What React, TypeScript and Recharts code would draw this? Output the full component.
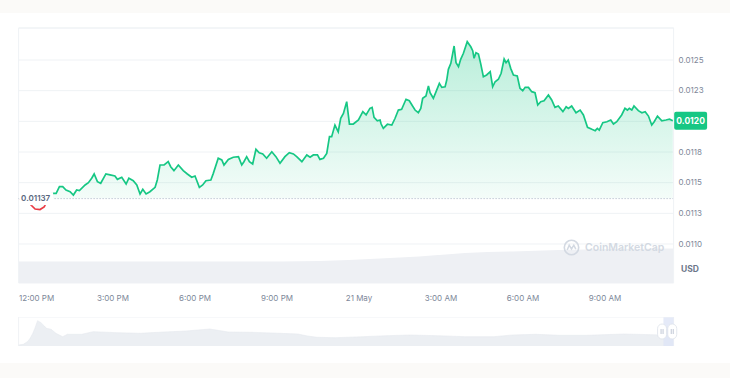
import React from 'react';
import {
  ComposedChart,
  AreaChart,
  Area,
  XAxis,
  YAxis,
  CartesianGrid,
  ReferenceLine,
  ReferenceArea,
  ReferenceDot,
} from 'recharts';

// ---- price series (hours since 12:00 PM, 20 May) ----
const hours = [
  -0.45, -0.26, -0.04, 0.15, 0.33, 0.48, 0.62, 0.76, 0.92, 1.04, 1.16, 1.28, 1.43, 1.55, 1.67, 1.77, 1.98, 2.1, 2.22, 2.31,
  2.43, 2.55, 2.74, 2.89, 3.07, 3.16, 3.32, 3.48, 3.58, 3.74, 3.87, 3.99, 4.09, 4.21, 4.35, 4.54, 4.62, 4.72, 4.87, 5.02,
  5.11, 5.23, 5.39, 5.57, 5.72, 5.88, 6.0, 6.16, 6.28, 6.4, 6.58, 6.67, 6.85, 6.98, 7.06, 7.22, 7.4, 7.59, 7.71, 7.79,
  7.89, 7.99, 8.11, 8.23, 8.35, 8.48, 8.62, 8.81, 8.96, 9.11, 9.29, 9.45, 9.6, 9.72, 9.91, 10.09, 10.21, 10.33, 10.48, 10.57,
  10.7, 10.82, 10.92, 11.0, 11.12, 11.24, 11.33, 11.43, 11.55, 11.65, 11.79, 11.98, 12.14, 12.26, 12.4, 12.48, 12.55, 12.67, 12.77, 12.81,
  12.89, 13.04, 13.2, 13.32, 13.44, 13.56, 13.72, 13.84, 14.05, 14.17, 14.26, 14.33, 14.45, 14.54, 14.6, 14.72, 14.82, 14.94, 15.03, 15.15,
  15.21, 15.27, 15.36, 15.48, 15.55, 15.64, 15.72, 15.82, 15.96, 16.09, 16.16, 16.21, 16.28, 16.37, 16.45, 16.55, 16.67, 16.8, 16.89, 16.98,
  17.1, 17.2, 17.31, 17.38, 17.46, 17.55, 17.65, 17.79, 17.89, 17.99, 18.08, 18.2, 18.32, 18.44, 18.54, 18.65, 18.77, 18.93, 19.05, 19.17,
  19.29, 19.46, 19.58, 19.66, 19.78, 19.94, 20.09, 20.21, 20.36, 20.52, 20.64, 20.72, 20.79, 20.92, 21.07, 21.21, 21.31, 21.43, 21.61, 21.73,
  21.82, 21.89, 21.98, 22.06, 22.22, 22.35, 22.47, 22.59, 22.71, 22.8, 22.92, 23.08, 23.23, 23.36, 23.48,
];

const prices = [
  0.011367, 0.011359, 0.011326, 0.011285, 0.011281, 0.011302, 0.011359, 0.011413, 0.011413, 0.011467,
  0.011467, 0.01144, 0.011426, 0.011399, 0.01144, 0.011435, 0.011481, 0.0115, 0.011536, 0.011571,
  0.011508, 0.011495, 0.011571, 0.011563, 0.011554, 0.011527, 0.011544, 0.011489, 0.011536, 0.011516,
  0.011481, 0.011408, 0.011446, 0.011408, 0.011426, 0.011462, 0.011522, 0.011644, 0.011644, 0.011671,
  0.01163, 0.011598, 0.011644, 0.011598, 0.011571, 0.011544, 0.011554, 0.011462, 0.011481, 0.011516,
  0.011522, 0.011576, 0.011699, 0.011685, 0.011644, 0.01169, 0.011707, 0.011712, 0.011644, 0.011671,
  0.011712, 0.011671, 0.011652, 0.011772, 0.011744, 0.011734, 0.011699, 0.011752, 0.011712, 0.011658,
  0.011712, 0.011744, 0.011734, 0.011712, 0.011671, 0.011726, 0.011707, 0.011726, 0.011726, 0.01169,
  0.011699, 0.011739, 0.011875, 0.011875, 0.01197, 0.011915, 0.012025, 0.012065, 0.01216, 0.011978,
  0.011978, 0.012011, 0.012079, 0.012052, 0.012106, 0.012114, 0.012033, 0.012005, 0.012011, 0.011978,
  0.011943, 0.011976, 0.01197, 0.012025, 0.012092, 0.012098, 0.01218, 0.012168, 0.012092, 0.01207,
  0.012106, 0.012188, 0.012207, 0.012288, 0.012233, 0.012188, 0.012242, 0.01231, 0.012277, 0.012282,
  0.012337, 0.012424, 0.012473, 0.012614, 0.012478, 0.012445, 0.012506, 0.012555, 0.012649, 0.012608,
  0.012576, 0.012514, 0.01256, 0.012549, 0.012473, 0.012364, 0.012378, 0.012405, 0.012282, 0.012323,
  0.012343, 0.012392, 0.012508, 0.012478, 0.0125, 0.012432, 0.012378, 0.01237, 0.012269, 0.01225,
  0.012277, 0.012277, 0.012242, 0.012233, 0.012133, 0.01216, 0.012168, 0.012215, 0.012174, 0.012114,
  0.012125, 0.012079, 0.012119, 0.012106, 0.012125, 0.01207, 0.012092, 0.012052, 0.011951, 0.011935,
  0.011924, 0.011943, 0.011929, 0.011989, 0.011997, 0.012011, 0.011978, 0.011997, 0.012052, 0.012106,
  0.012092, 0.012106, 0.012092, 0.012125, 0.012087, 0.01207, 0.012079, 0.012043, 0.01197, 0.011997,
  0.012043, 0.012005, 0.012011, 0.012017, 0.012005,
];

const openPrice = 0.01137;
const openLabel = '0.01137';

// ---- volume (hours, relative level) ----
const volHours = [-0.45, 9.11, 10.57, 11.63, 12.77, 14.2, 15.88, 17.6, 19.32, 21.2, 23.51];
const volumes = [2.15, 2.15, 2.2, 2.3, 2.45, 2.65, 3.0, 3.15, 3.3, 3.4, 3.45];

// ---- axis ticks ----
const xTicks = [0, 3, 6, 9, 12, 15, 18, 21];
const xTickLabels = ['12:00 PM', '3:00 PM', '6:00 PM', '9:00 PM', '21 May', '3:00 AM', '6:00 AM', '9:00 AM'];
const yTicks = [0.011, 0.01125, 0.0115, 0.01175, 0.012, 0.01225, 0.0125];
const yTickLabels = ['0.0110', '0.0113', '0.0115', '0.0118', '0.0120', '0.0123', '0.0125'];

// ---- navigator (days, relative level) ----
const navDays = [
  -0.47, -0.4, -0.34, -0.3, -0.26, -0.23, -0.19, -0.14, -0.09, -0.06, 0.01, 0.08, 0.18, 0.25, 0.46, 0.63, 0.98, 1.32, 1.59, 2.0,
  2.35, 2.62, 2.97, 3.38, 3.65, 3.79, 3.93, 4.2, 4.61, 4.96, 5.3, 5.71, 6.12, 6.54, 6.81, 7.16, 7.5, 7.91, 8.46, 8.87, 9.19,
];
const navValues = [
  1, 1.7, 4.3, 7.7, 12.7, 17.7, 25.3, 23.3, 20, 17.7, 16.7, 12.7, 9.3, 11.7, 11.7, 14.3, 13.3, 12.7, 13.7, 15,
  17, 14, 13.7, 12.7, 12, 10, 8.7, 8.3, 9.3, 10.3, 11, 10.3, 9.3, 9.3, 11, 11.7, 10.7, 10.7, 12, 11.3, 10.7,
];
const navTicks = [0, 1, 2, 3, 4, 5, 6, 7, 8];
const navSelection = [9.04, 9.19];

const T_MIN = -0.454;
const T_MAX = 23.51;
const P_MIN = 0.010682;
const P_MAX = 0.012761;

const GREEN = '#16c784';
const RED = '#ea3943';
const GRID = '#eff2f5';
const TICK = '#7d8799';

const priceData = hours.map((t, i) => ({ t, p: prices[i] }));
const volData = volHours.map((t, i) => ({ t, v: volumes[i] }));
const navData = navDays.map((d, i) => ({ d, v: navValues[i] }));

const maxP = Math.max(...prices);
const minP = Math.min(...prices);
const splitOffset = (maxP - openPrice) / (maxP - minP);
const lastPrice = prices[prices.length - 1];

const XTick = (props: any) => {
  const { x, y, payload, index } = props;
  const label = xTickLabels[xTicks.indexOf(payload.value)] ?? '';
  return (
    <text x={index === 0 ? x - 12 : x} y={y} dy="0.71em" textAnchor={index === 0 ? 'start' : 'middle'} fontSize={8} fill={TICK}>
      {label}
    </text>
  );
};

const YTick = (props: any) => {
  const { x, y, payload } = props;
  const idx = yTicks.indexOf(payload.value);
  // the tick under the current-price badge is covered by it
  const hidden = Math.abs(payload.value - lastPrice) < 0.0001;
  return (
    <text x={x} y={y} dy="0.35em" textAnchor="start" fontSize={8} fill={TICK}>
      {idx >= 0 && !hidden ? yTickLabels[idx] : ''}
    </text>
  );
};

const OpenLabel = (props: any) => {
  const vb = props.viewBox || {};
  const x = vb.x ?? 0;
  const y = vb.y ?? 0;
  return (
    <g>
      <rect x={x + 0.5} y={y - 6.5} width={34} height={13} fill="#ffffff" />
      <text x={x + 2.5} y={y} dy="0.35em" fontSize={8} fontWeight={600} fill="#58667e">
        {openLabel}
      </text>
    </g>
  );
};

const LastLabel = (props: any) => {
  const vb = props.viewBox || {};
  const x = (vb.x ?? 0) + (vb.width ?? 0);
  const y = vb.y ?? 0;
  return (
    <g>
      <rect x={x + 0.5} y={y - 9} width={33} height={18} rx={2} fill={GREEN} />
      <text x={x + 17} y={y} dy="0.35em" textAnchor="middle" fontSize={8.5} fontWeight={700} fill="#ffffff">
        {lastPrice.toFixed(4)}
      </text>
    </g>
  );
};

const Handle = (props: any) => {
  const { cx, cy } = props;
  return (
    <g>
      <rect x={cx - 4.5} y={cy - 7.5} width={9} height={15} rx={4.5} fill="#ffffff" stroke="#dde2ea" strokeWidth={0.8} />
      <line x1={cx - 1} y1={cy - 2.5} x2={cx - 1} y2={cy + 2.5} stroke="#a6b0c3" strokeWidth={0.7} />
      <line x1={cx + 1} y1={cy - 2.5} x2={cx + 1} y2={cy + 2.5} stroke="#a6b0c3" strokeWidth={0.7} />
    </g>
  );
};

export default function App() {
  return (
    <div
      style={{
        position: 'absolute',
        left: 0,
        top: 0,
        width: 730,
        height: 378,
        background: '#fbfaf8',
        fontFamily: 'Inter, "Noto Sans", sans-serif',
        overflow: 'hidden',
      }}
    >
      <div style={{ position: 'absolute', left: 0, top: 13, width: 730, height: 350, background: '#ffffff' }} />

      <div style={{ position: 'absolute', left: 0, top: 0 }}>
        <ComposedChart width={730} height={313} margin={{ top: 28, right: 0, bottom: 0, left: 18.6 }}>
          <defs>
            <linearGradient id="lineGrad" x1="0" y1="0" x2="0" y2="1">
              <stop offset={0} stopColor={GREEN} />
              <stop offset={splitOffset} stopColor={GREEN} />
              <stop offset={splitOffset} stopColor={RED} />
              <stop offset={1} stopColor={RED} />
            </linearGradient>
            <linearGradient id="fillGrad" x1="0" y1="0" x2="0" y2="1">
              <stop offset="0%" stopColor={GREEN} stopOpacity={0.3} />
              <stop offset="100%" stopColor={GREEN} stopOpacity={0.03} />
            </linearGradient>
          </defs>
          <CartesianGrid yAxisId="p" vertical={false} stroke={GRID} />
          <XAxis
            dataKey="t"
            type="number"
            domain={[T_MIN, T_MAX]}
            ticks={xTicks}
            allowDataOverflow
            axisLine={false}
            tickLine={false}
            tickSize={0}
            tickMargin={12}
            height={30}
            tick={<XTick />}
          />
          <YAxis
            yAxisId="p"
            orientation="right"
            type="number"
            domain={[P_MIN, P_MAX]}
            ticks={yTicks}
            allowDataOverflow
            width={56.4}
            axisLine={{ stroke: GRID }}
            tickLine={false}
            tickSize={0}
            tickMargin={5}
            tick={<YTick />}
          />
          <YAxis yAxisId="v" hide type="number" domain={[0, 25.5]} />
          <Area
            yAxisId="v"
            data={volData}
            dataKey="v"
            type="monotone"
            stroke="none"
            fill="#eef0f4"
            fillOpacity={1}
            isAnimationActive={false}
          />
          <ReferenceLine yAxisId="p" y={P_MAX} stroke={GRID} />
          <ReferenceLine yAxisId="p" x={T_MIN} stroke={GRID} />
          <Area
            yAxisId="p"
            data={priceData}
            dataKey="p"
            type="linear"
            baseValue={openPrice}
            stroke="url(#lineGrad)"
            strokeWidth={1.7}
            fill="url(#fillGrad)"
            fillOpacity={1}
            dot={false}
            activeDot={false}
            isAnimationActive={false}
          />
          <ReferenceLine
            yAxisId="p"
            y={openPrice}
            stroke="#a6b0c3"
            strokeDasharray="1 2"
            label={<OpenLabel />}
          />
          <ReferenceLine yAxisId="p" y={lastPrice} stroke="none" label={<LastLabel />} />
        </ComposedChart>
      </div>

      {/* watermark */}
      <div
        style={{
          position: 'absolute',
          left: 563,
          top: 239,
          display: 'flex',
          alignItems: 'center',
          gap: 5,
          color: '#d3d9e2',
          fontSize: 10.5,
          fontWeight: 600,
          lineHeight: '17px',
        }}
      >
        <svg width={17} height={17} viewBox="0 0 17 17">
          <circle cx={8.5} cy={8.5} r={7.2} fill="none" stroke="#d3d9e2" strokeWidth={1.6} />
          <path d="M4.2 11 L6.2 6.2 L8.5 10 L10.8 6.2 L12.8 10.2" fill="none" stroke="#d3d9e2" strokeWidth={1.5} />
        </svg>
        <span>CoinMarketCap</span>
      </div>

      <div
        style={{
          position: 'absolute',
          left: 681,
          top: 264,
          fontSize: 8.5,
          fontWeight: 700,
          color: '#6d778a',
        }}
      >
        USD
      </div>

      {/* navigator */}
      <div style={{ position: 'absolute', left: 0, top: 317 }}>
        <AreaChart width={730} height={29} data={navData} margin={{ top: 0, right: 56.4, bottom: 0, left: 18.6 }}>
          <CartesianGrid horizontal={false} stroke="#f0f2f5" />
          <XAxis
            dataKey="d"
            type="number"
            domain={[-0.47, 9.19]}
            ticks={navTicks}
            allowDataOverflow
            height={0}
            tick={false}
            axisLine={false}
            tickLine={false}
          />
          <YAxis hide type="number" domain={[0, 29]} />
          <ReferenceLine y={29} stroke="#f0f2f5" />
          <Area
            dataKey="v"
            type="linear"
            stroke="#e6e9ee"
            strokeWidth={0.6}
            fill="#eceff3"
            fillOpacity={1}
            isAnimationActive={false}
          />
          <ReferenceArea x1={navSelection[0]} x2={navSelection[1]} y1={0} y2={29} fill="#dfe5f6" fillOpacity={0.8} stroke="none" />
          <ReferenceDot x={navSelection[0] - 0.02} y={14.5} shape={<Handle />} />
          <ReferenceDot x={navSelection[1] - 0.02} y={14.5} shape={<Handle />} />
        </AreaChart>
      </div>
    </div>
  );
}
